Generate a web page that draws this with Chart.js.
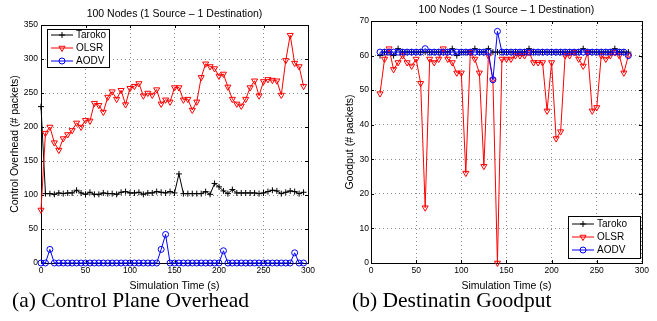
<!DOCTYPE html>
<html>
<head>
<meta charset="utf-8">
<script src="https://cdn.jsdelivr.net/npm/chart.js"></script>
<style>
  body { margin: 0; background: #fff; width: 657px; height: 321px; position: relative; overflow: hidden; }
  canvas { position: absolute; top: 0; }
  #overheadChart { left: 0; }
  #goodputChart { left: 330px; }
  .cap { position: absolute; top: 288px; font-family: 'Liberation Serif', 'Times New Roman', serif; font-size: 21.5px; line-height: 24px; white-space: nowrap; color: #000; }
</style>
</head>
<body>
<canvas id="overheadChart" width="322" height="292"></canvas>
<canvas id="goodputChart" width="322" height="292"></canvas>
<div class="cap" style="left:12px">(a) Control Plane Overhead</div>
<div class="cap" style="left:352px">(b) Destinatin Goodput</div>
<script>
var chartTitle = '100 Nodes (1 Source \u2013 1 Destination)';
var seriesNames = ['Taroko', 'OLSR', 'AODV'];
var timeTicks = [0, 50, 100, 150, 200, 250, 300];

// (a) control overhead, one sample every 5 s
var timeA = [0, 5, 10, 15, 20, 25, 30, 35, 40, 45, 50, 55, 60, 65, 70, 75, 80, 85, 90, 95,
    100, 105, 110, 115, 120, 125, 130, 135, 140, 145, 150, 155, 160, 165, 170, 175, 180, 185, 190, 195,
    200, 205, 210, 215, 220, 225, 230, 235, 240, 245, 250, 255, 260, 265, 270, 275, 280, 285, 290, 295];
var tarokoA = [230, 102, 102, 101, 103, 102, 103, 103, 107, 103, 101, 104, 101, 101, 103, 102, 102, 101, 104, 105,
    103, 103, 104, 101, 103, 103, 105, 104, 103, 105, 103, 131, 102, 102, 102, 102, 102, 105, 101, 117,
    112, 106, 102, 108, 103, 103, 103, 103, 103, 102, 103, 105, 107, 106, 102, 104, 106, 105, 102, 104];
var olsrA = [78, 191, 200, 177, 166, 183, 189, 195, 206, 200, 210, 209, 235, 232, 222, 244, 252, 241, 254, 233,
    257, 260, 264, 246, 250, 247, 255, 234, 240, 237, 258, 258, 240, 241, 225, 237, 273, 293, 289, 286,
    275, 278, 259, 241, 234, 231, 241, 258, 268, 246, 267, 270, 269, 268, 247, 298, 335, 294, 289, 260];
var aodvA = [0, 0, 20, 0, 0, 0, 0, 0, 0, 0, 0, 0, 0, 0, 0, 0, 0, 0, 0, 0,
    0, 0, 0, 0, 0, 0, 0, 20, 42, 0, 0, 0, 0, 0, 0, 0, 0, 0, 0, 0,
    0, 18, 0, 0, 0, 0, 0, 0, 0, 0, 0, 0, 0, 0, 0, 0, 0, 15, 0, 0];
var overheadTicks = [0, 50, 100, 150, 200, 250, 300, 350];

// (b) destination goodput
var timeB = [10, 15, 20, 25, 30, 35, 40, 45, 50, 55, 60, 65, 70, 75, 80, 85, 90, 95, 100, 105,
    110, 115, 120, 125, 130, 135, 140, 145, 150, 155, 160, 165, 170, 175, 180, 185, 190, 195, 200, 205,
    210, 215, 220, 225, 230, 235, 240, 245, 250, 255, 260, 265, 270, 275, 280, 285];
var tarokoB = [60, 61, 61, 60, 62, 61, 61, 61, 61, 61, 61, 61, 61, 61, 61, 61, 62, 60, 61, 61,
    61, 62, 61, 61, 62, 61, 61, 61, 61, 61, 61, 61, 61, 62, 61, 61, 61, 61, 61, 61,
    61, 61, 61, 61, 61, 62, 61, 61, 61, 61, 61, 61, 62, 61, 61, 61];
var olsrB = [49, 59, 62, 56, 58, 60, 58, 57, 59, 52, 16, 59, 58, 59, 62, 59, 58, 55, 55, 26,
    61, 59, 55, 28, 60, 53, 0, 59, 59, 59, 60, 60, 60, 61, 58, 58, 58, 44, 58, 36,
    38, 60, 60, 61, 59, 57, 61, 44, 45, 60, 59, 60, 61, 60, 55, 60];
var aodvB = [61, 61, 61, 61, 61, 61, 61, 61, 61, 61, 62, 61, 61, 61, 61, 61, 61, 61, 61, 61,
    61, 61, 61, 61, 61, 53, 67, 61, 61, 61, 61, 61, 61, 61, 61, 61, 61, 61, 61, 61,
    61, 61, 61, 61, 61, 61, 61, 61, 61, 61, 61, 61, 61, 61, 61, 60];
var goodputTicks = [0, 10, 20, 30, 40, 50, 60, 70];

var sansFont = "'Liberation Sans', Arial, sans-serif";
Chart.defaults.font.family = sansFont;
Chart.defaults.color = '#000';

function pts(xs, ys) {
    return xs.map(function(x, i) { return {x: x, y: ys[i]}; });
}

function makeSets(xs, taroko, olsr, aodv) {
    return [{
        label: seriesNames[0], data: pts(xs, taroko), borderColor: '#000', backgroundColor: 'rgba(0,0,0,0)',
        pointStyle: 'cross', pointRadius: 3, borderWidth: 1, pointBorderWidth: 1, order: 3, clip: false
    }, {
        label: seriesNames[1], data: pts(xs, olsr), borderColor: '#ff0000', backgroundColor: 'rgba(0,0,0,0)',
        pointStyle: 'triangle', pointRotation: 180, pointRadius: 3.5, borderWidth: 1, pointBorderWidth: 1, order: 2, clip: false
    }, {
        label: seriesNames[2], data: pts(xs, aodv), borderColor: '#0000ff', backgroundColor: 'rgba(0,0,0,0)',
        pointStyle: 'circle', pointRadius: 3, borderWidth: 1, pointBorderWidth: 1, order: 1, clip: false
    }];
}

// matlab-ish box, inward ticks and an inset legend
var matlabFrame = {
    id: 'matlabFrame',
    beforeDatasetsDraw: function(chart) {
        var ctx = chart.ctx, a = chart.chartArea;
        var xs = chart.scales.x, ys = chart.scales.y;
        ctx.save();
        ctx.strokeStyle = '#000';
        ctx.lineWidth = 1;
        ctx.beginPath();
        xs.ticks.forEach(function(t) {
            var px = Math.round(xs.getPixelForValue(t.value)) + 0.5;
            ctx.moveTo(px, a.bottom); ctx.lineTo(px, a.bottom - 3);
            ctx.moveTo(px, a.top); ctx.lineTo(px, a.top + 3);
        });
        ys.ticks.forEach(function(t) {
            var py = Math.round(ys.getPixelForValue(t.value)) + 0.5;
            ctx.moveTo(a.left, py); ctx.lineTo(a.left + 3, py);
            ctx.moveTo(a.right, py); ctx.lineTo(a.right - 3, py);
        });
        ctx.stroke();
        ctx.strokeRect(Math.round(a.left) + 0.5, Math.round(a.top) + 0.5,
            Math.round(a.right - a.left), Math.round(a.bottom - a.top));
        ctx.restore();
    },
    afterDraw: function(chart, args, opts) {
        var lg = opts.box;
        if (!lg) return;
        var ctx = chart.ctx;
        ctx.save();
        ctx.fillStyle = '#fff';
        ctx.fillRect(lg.x, lg.y, lg.w, lg.h);
        ctx.strokeStyle = '#000';
        ctx.lineWidth = 1;
        ctx.strokeRect(lg.x + 0.5, lg.y + 0.5, lg.w, lg.h);
        chart.data.datasets.forEach(function(ds, i) {
            var ry = lg.y + lg.h / 2 + (i - 1) * 13;
            ctx.strokeStyle = ds.borderColor;
            ctx.beginPath();
            ctx.moveTo(lg.x + 4, ry); ctx.lineTo(lg.x + 26, ry);
            ctx.stroke();
            ctx.fillStyle = 'rgba(0,0,0,0)';
            Chart.helpers.drawPoint(ctx, {pointStyle: ds.pointStyle, rotation: ds.pointRotation || 0,
                radius: ds.pointRadius, borderWidth: 1}, lg.x + 15, ry);
            ctx.fillStyle = '#000';
            ctx.font = '10px ' + sansFont;
            ctx.textBaseline = 'middle';
            ctx.fillText(ds.label, lg.x + 29, ry + 0.5);
        });
        ctx.restore();
    }
};

function makeConfig(sets, yTicks, yLabel, p) {
    return {
        type: 'line',
        data: { datasets: sets },
        options: {
            responsive: false,
            animation: false,
            layout: { padding: { left: 0, right: p.right, top: 0, bottom: 0 } },
            plugins: {
                legend: { display: false },
                tooltip: { enabled: false },
                title: {
                    display: true, text: chartTitle, color: '#000', fullSize: false,
                    font: { size: 10.5, weight: 'normal' },
                    padding: { top: p.titleTop, bottom: p.titleBottom }
                },
                matlabFrame: { box: p.legend }
            },
            scales: {
                x: {
                    type: 'linear', min: 0, max: 300,
                    afterBuildTicks: function(s) { s.ticks = timeTicks.map(function(v) { return {value: v}; }); },
                    afterFit: function(s) { s.height = 29; },
                    grid: { color: 'rgba(0,0,0,0.45)', drawTicks: false },
                    border: { display: false, dash: [1, 3] },
                    ticks: { font: { size: 8.5 }, padding: 3, maxRotation: 0 },
                    title: { display: true, text: 'Simulation Time (s)', font: { size: 10.5 }, padding: { top: 3.7, bottom: 0 } }
                },
                y: {
                    min: 0, max: yTicks[yTicks.length - 1],
                    afterBuildTicks: function(s) { s.ticks = yTicks.map(function(v) { return {value: v}; }); },
                    afterFit: function(s) { s.width = 41; },
                    grid: { color: 'rgba(0,0,0,0.45)', drawTicks: false },
                    border: { display: false, dash: [1, 3] },
                    ticks: { font: { size: 8.5 }, padding: p.tickPad },
                    title: { display: true, text: yLabel, font: { size: 10.5 }, padding: { top: p.yTitle, bottom: 0 } }
                }
            }
        },
        plugins: [matlabFrame]
    };
}

window.onload = function() {
    new Chart(document.getElementById('overheadChart').getContext('2d'),
        makeConfig(makeSets(timeA, tarokoA, olsrA, aodvA), overheadTicks, 'Control Overhead (# packets)',
            { right: 14, titleTop: 8.2, titleBottom: 4.2, yTitle: 9, tickPad: 3,
              legend: { x: 47, y: 29, w: 62, h: 38 } }));
    new Chart(document.getElementById('goodputChart').getContext('2d'),
        makeConfig(makeSets(timeB, tarokoB, olsrB, aodvB), goodputTicks, 'Goodput (# packets)',
            { right: 10, titleTop: 3.7, titleBottom: 4.7, yTitle: 14, tickPad: 2,
              legend: { x: 238, y: 216, w: 72, h: 42 } }));
};
</script>
</body>
</html>
